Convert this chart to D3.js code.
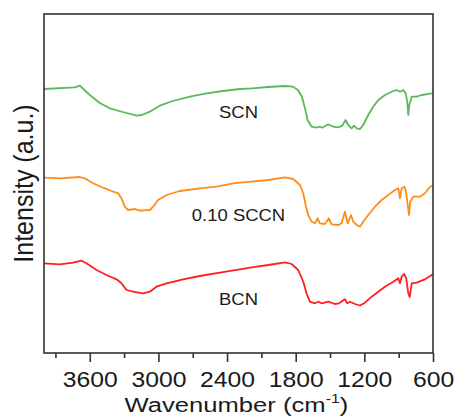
<!DOCTYPE html>
<html>
<head>
<meta charset="utf-8">
<script src="https://cdn.jsdelivr.net/npm/d3@7"></script>
<style>
  body { margin: 0; background: #fff; }
  svg { display: block; }
</style>
</head>
<body>
<div id="chart"></div>
<script>
// wavenumbers (cm-1) and intensities (a.u., stacked offsets included)
const scnWave = [4000, 3731, 3687, 3600, 3512, 3425, 3311, 3189, 3145, 3075, 2988, 2874, 2725, 2577, 2437, 2288, 2183, 2043, 1894, 1824, 1781, 1746, 1719, 1696, 1661, 1617, 1588, 1568, 1516, 1472, 1428, 1393, 1364, 1341, 1311, 1291, 1267, 1238, 1210, 1166, 1122, 1078, 1020, 961, 917, 889, 860, 839, 825, 816, 807, 786, 743, 699, 611, 600];
const scnVal = [264, 265.7, 267.3, 258, 250, 244.7, 241, 237.3, 238, 241.3, 247.3, 252, 256.3, 259.7, 262, 264, 264.7, 266, 267, 266.3, 263, 256.3, 244.7, 233, 226.3, 225.3, 226.3, 225.3, 228.7, 226.3, 225.7, 227.3, 233, 228, 224.7, 227.3, 224.7, 224, 228, 238, 246.3, 253, 258, 261.3, 263, 261.3, 263, 259.7, 251.3, 238, 248, 256.3, 256.3, 258, 259.7, 260];

const sccnWave = [4000, 3862, 3687, 3644, 3571, 3484, 3410, 3352, 3323, 3294, 3265, 3206, 3163, 3075, 3046, 3003, 2929, 2813, 2638, 2492, 2347, 2288, 2186, 2040, 1894, 1822, 1763, 1734, 1713, 1691, 1661, 1632, 1608, 1588, 1545, 1510, 1486, 1428, 1399, 1370, 1346, 1317, 1297, 1267, 1238, 1210, 1166, 1107, 1049, 991, 932, 903, 889, 874, 851, 836, 821, 810, 799, 772, 714, 670, 626, 600];
const sccnVal = [175.3, 174.7, 176, 174.7, 169.7, 165.3, 162, 159.7, 154.7, 146.3, 143, 144, 142.3, 143, 146.3, 153, 158, 162, 164.7, 166.3, 169.7, 170.3, 171.3, 173, 175.7, 174, 168, 159.7, 148, 138, 131.3, 129.7, 134.7, 129.7, 129, 134.7, 128.7, 128, 129.7, 141.3, 129.7, 138, 131.3, 128, 126.3, 131.3, 138, 146.3, 153, 158, 163, 164.7, 154.7, 164.7, 166.3, 161.3, 148, 138, 151.3, 156.3, 156.3, 159.7, 166.3, 167.5];

const bcnWave = [4000, 3862, 3746, 3672, 3629, 3541, 3454, 3366, 3323, 3279, 3221, 3134, 3075, 3017, 2929, 2784, 2638, 2463, 2288, 2186, 2040, 1894, 1836, 1778, 1734, 1705, 1676, 1632, 1603, 1573, 1516, 1457, 1422, 1370, 1350, 1326, 1282, 1238, 1195, 1136, 1078, 1020, 947, 903, 889, 874, 851, 834, 816, 804, 786, 743, 670, 611, 600];
const bcnVal = [89.7, 88.7, 90.3, 92.3, 89.7, 83, 78, 73.7, 69.7, 63, 61.3, 59.7, 61.3, 66.3, 69.7, 73.7, 77, 80.3, 83.7, 85.7, 88, 90.7, 89, 83, 71.3, 59.7, 51.3, 49.7, 51.3, 49.7, 51.3, 49, 49.7, 53.7, 49.7, 51.3, 49, 47.5, 50.3, 56.3, 61.3, 66.3, 71.3, 74.7, 69.7, 76.3, 79, 74.7, 59.7, 56, 69.7, 70.3, 73.7, 78, 79];

const seriesNames = ["SCN", "0.10 SCCN", "BCN"];
const seriesColors = ["#5cb85a", "#ff8c1a", "#ff1f1f"];
// label anchor: [wavenumber, intensity]
const labelPos = [[2300, 235], [2300, 132], [2300, 48]];

const majorTicks = [3600, 3000, 2400, 1800, 1200, 600];
const minorTicks = [3900, 3300, 2700, 2100, 1500, 900];

const width = 456, height = 416;
const margin = {top: 14, right: 23, bottom: 63, left: 44};
const plotW = width - margin.left - margin.right;
const plotH = height - margin.top - margin.bottom;
const stretch = 1.12; // glyphs in the source look a bit wide

const svg = d3.select("#chart").append("svg")
    .attr("width", width)
    .attr("height", height);

const g = svg.append("g")
    .attr("transform", `translate(${margin.left},${margin.top})`);

const x = d3.scaleLinear().domain([4000, 600]).range([0, plotW]);
const y = d3.scaleLinear().domain([0, 339]).range([plotH, 0]);

const line = d3.line()
    .x(d => x(d[0]))
    .y(d => y(d[1]));

const series = [
    d3.zip(scnWave, scnVal),
    d3.zip(sccnWave, sccnVal),
    d3.zip(bcnWave, bcnVal)
];

series.forEach((data, i) => {
    g.append("path")
        .datum(data)
        .attr("d", line)
        .attr("fill", "none")
        .attr("stroke", seriesColors[i])
        .attr("stroke-width", 1.8)
        .attr("stroke-linejoin", "round");
});

// series labels
seriesNames.forEach((name, i) => {
    g.append("text")
        .attr("transform", `translate(${x(labelPos[i][0])},${y(labelPos[i][1])}) scale(${stretch},1)`)
        .attr("text-anchor", "middle")
        .attr("font-family", "Liberation Sans, Arial, sans-serif")
        .attr("font-size", 16.5)
        .attr("fill", "#1a1a1a")
        .text(name);
});

// frame
g.append("rect")
    .attr("width", plotW)
    .attr("height", plotH)
    .attr("fill", "none")
    .attr("stroke", "#333")
    .attr("stroke-width", 1.6);

// bottom axis: major ticks with labels
const xAxis = g.append("g")
    .attr("transform", `translate(0,${plotH})`)
    .call(d3.axisBottom(x).tickValues(majorTicks).tickSize(9).tickFormat(d3.format("d")));
xAxis.select(".domain").remove();
xAxis.selectAll(".tick line").attr("stroke", "#333").attr("stroke-width", 1.6);
xAxis.selectAll(".tick text")
    .attr("y", 34.5)
    .attr("dy", null)
    .attr("transform", "scale(1.15,1)")
    .attr("font-family", "Liberation Sans, Arial, sans-serif")
    .attr("font-size", 21.5)
    .attr("fill", "#1a1a1a");

// minor ticks
const xMinor = g.append("g")
    .attr("transform", `translate(0,${plotH})`)
    .call(d3.axisBottom(x).tickValues(minorTicks).tickSize(5).tickFormat(""));
xMinor.select(".domain").remove();
xMinor.selectAll(".tick line").attr("stroke", "#333").attr("stroke-width", 1.6);

// x title (start-anchored, then centred by its measured width)
const titleStretch = 1.22;
const xTitle = svg.append("text")
    .attr("font-family", "Liberation Sans, Arial, sans-serif")
    .attr("font-size", 21)
    .attr("fill", "#1a1a1a");
xTitle.append("tspan").text("Wavenumber (cm");
xTitle.append("tspan").attr("font-size", 13).attr("dy", -9).text("-1");
xTitle.append("tspan").attr("dy", 9).text(")");
const titleW = xTitle.node().getBBox().width * titleStretch;
xTitle.attr("transform", `translate(${margin.left + plotW / 2 - 2 - titleW / 2},411.5) scale(${titleStretch},1)`);

// y title
svg.append("text")
    .attr("transform", `translate(33,${margin.top + plotH / 2}) scale(${stretch},1) rotate(-90)`)
    .attr("text-anchor", "middle")
    .attr("font-family", "Liberation Sans, Arial, sans-serif")
    .attr("font-size", 25)
    .attr("fill", "#1a1a1a")
    .text("Intensity (a.u.)");
</script>
</body>
</html>
